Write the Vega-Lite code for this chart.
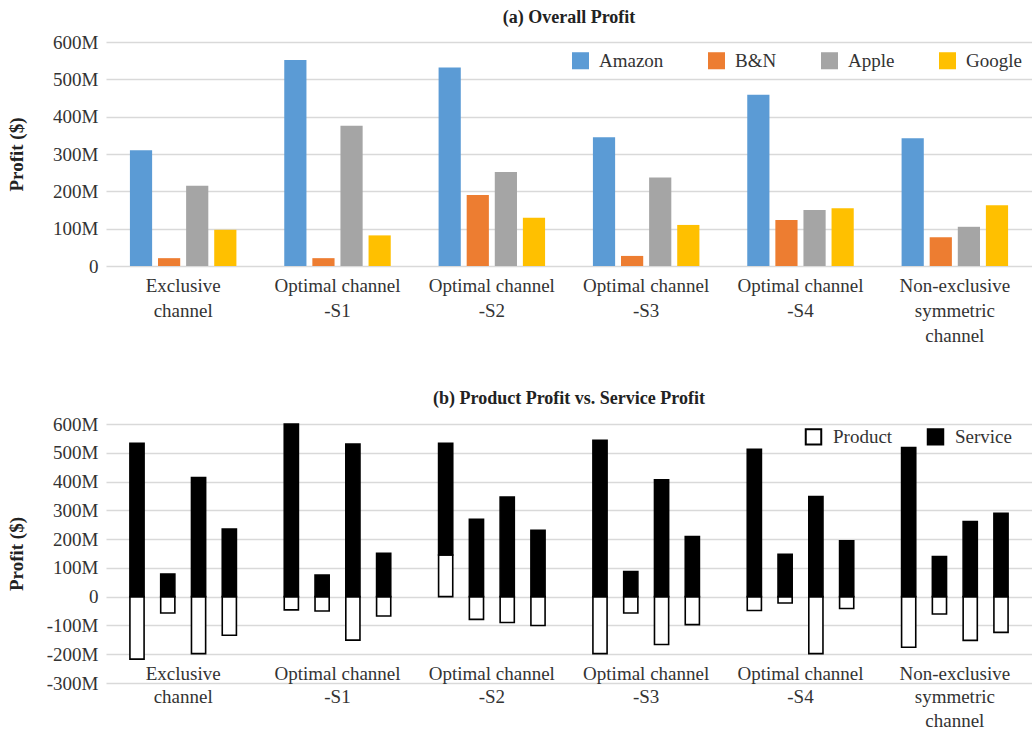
{
  "$schema": "https://vega.github.io/schema/vega-lite/v6.json",
  "padding": {"left": 7, "top": 9, "right": 0, "bottom": 0},
  "spacing": 45,
  "resolve": {"scale": {"color": "independent", "xOffset": "independent", "x": "independent", "y": "independent"}, "legend": {"color": "independent"}},
  "config": {
    "font": "Liberation Serif",
    "view": {"stroke": null},
    "axis": {"labelFont": "Liberation Serif", "labelFontSize": 19, "labelColor": "#333333", "titleFont": "Liberation Serif", "titleFontSize": 19, "titleFontWeight": "bold", "titleColor": "#222222", "domain": false, "ticks": false, "gridColor": "#D9D9D9", "gridWidth": 1.5},
    "legend": {"labelFont": "Liberation Serif", "labelFontSize": 19, "labelColor": "#333333"},
    "title": {"font": "Liberation Serif", "fontSize": 18, "fontWeight": "bold", "color": "#222222", "frame": "group", "anchor": "middle"}
  },
  "datasets": {
    "overall": [
      {"scenario": "Exclusive\nchannel", "company": "Amazon", "profit": 310},
      {"scenario": "Exclusive\nchannel", "company": "B&N", "profit": 21},
      {"scenario": "Exclusive\nchannel", "company": "Apple", "profit": 215},
      {"scenario": "Exclusive\nchannel", "company": "Google", "profit": 97},
      {"scenario": "Optimal channel\n-S1", "company": "Amazon", "profit": 552},
      {"scenario": "Optimal channel\n-S1", "company": "B&N", "profit": 21},
      {"scenario": "Optimal channel\n-S1", "company": "Apple", "profit": 376},
      {"scenario": "Optimal channel\n-S1", "company": "Google", "profit": 82},
      {"scenario": "Optimal channel\n-S2", "company": "Amazon", "profit": 532},
      {"scenario": "Optimal channel\n-S2", "company": "B&N", "profit": 190},
      {"scenario": "Optimal channel\n-S2", "company": "Apple", "profit": 252},
      {"scenario": "Optimal channel\n-S2", "company": "Google", "profit": 129},
      {"scenario": "Optimal channel\n-S3", "company": "Amazon", "profit": 345},
      {"scenario": "Optimal channel\n-S3", "company": "B&N", "profit": 27},
      {"scenario": "Optimal channel\n-S3", "company": "Apple", "profit": 237},
      {"scenario": "Optimal channel\n-S3", "company": "Google", "profit": 110},
      {"scenario": "Optimal channel\n-S4", "company": "Amazon", "profit": 459},
      {"scenario": "Optimal channel\n-S4", "company": "B&N", "profit": 123},
      {"scenario": "Optimal channel\n-S4", "company": "Apple", "profit": 150},
      {"scenario": "Optimal channel\n-S4", "company": "Google", "profit": 155},
      {"scenario": "Non-exclusive\nsymmetric\nchannel", "company": "Amazon", "profit": 342},
      {"scenario": "Non-exclusive\nsymmetric\nchannel", "company": "B&N", "profit": 77},
      {"scenario": "Non-exclusive\nsymmetric\nchannel", "company": "Apple", "profit": 105},
      {"scenario": "Non-exclusive\nsymmetric\nchannel", "company": "Google", "profit": 163}
    ],
    "split": [
      {"scenario": "Exclusive\nchannel", "company": "Amazon", "type": "Product", "profit": -217},
      {"scenario": "Exclusive\nchannel", "company": "Amazon", "type": "Service", "profit": 533},
      {"scenario": "Exclusive\nchannel", "company": "B&N", "type": "Product", "profit": -57},
      {"scenario": "Exclusive\nchannel", "company": "B&N", "type": "Service", "profit": 79},
      {"scenario": "Exclusive\nchannel", "company": "Apple", "type": "Product", "profit": -198},
      {"scenario": "Exclusive\nchannel", "company": "Apple", "type": "Service", "profit": 414},
      {"scenario": "Exclusive\nchannel", "company": "Google", "type": "Product", "profit": -134},
      {"scenario": "Exclusive\nchannel", "company": "Google", "type": "Service", "profit": 235},
      {"scenario": "Optimal channel\n-S1", "company": "Amazon", "type": "Product", "profit": -46},
      {"scenario": "Optimal channel\n-S1", "company": "Amazon", "type": "Service", "profit": 600},
      {"scenario": "Optimal channel\n-S1", "company": "B&N", "type": "Product", "profit": -50},
      {"scenario": "Optimal channel\n-S1", "company": "B&N", "type": "Service", "profit": 75},
      {"scenario": "Optimal channel\n-S1", "company": "Apple", "type": "Product", "profit": -151},
      {"scenario": "Optimal channel\n-S1", "company": "Apple", "type": "Service", "profit": 530},
      {"scenario": "Optimal channel\n-S1", "company": "Google", "type": "Product", "profit": -67},
      {"scenario": "Optimal channel\n-S1", "company": "Google", "type": "Service", "profit": 151},
      {"scenario": "Optimal channel\n-S2", "company": "Amazon", "type": "Product", "profit": 145},
      {"scenario": "Optimal channel\n-S2", "company": "Amazon", "type": "Service", "profit": 388},
      {"scenario": "Optimal channel\n-S2", "company": "B&N", "type": "Product", "profit": -79},
      {"scenario": "Optimal channel\n-S2", "company": "B&N", "type": "Service", "profit": 269},
      {"scenario": "Optimal channel\n-S2", "company": "Apple", "type": "Product", "profit": -90},
      {"scenario": "Optimal channel\n-S2", "company": "Apple", "type": "Service", "profit": 346},
      {"scenario": "Optimal channel\n-S2", "company": "Google", "type": "Product", "profit": -100},
      {"scenario": "Optimal channel\n-S2", "company": "Google", "type": "Service", "profit": 231},
      {"scenario": "Optimal channel\n-S3", "company": "Amazon", "type": "Product", "profit": -198},
      {"scenario": "Optimal channel\n-S3", "company": "Amazon", "type": "Service", "profit": 543},
      {"scenario": "Optimal channel\n-S3", "company": "B&N", "type": "Product", "profit": -57},
      {"scenario": "Optimal channel\n-S3", "company": "B&N", "type": "Service", "profit": 87},
      {"scenario": "Optimal channel\n-S3", "company": "Apple", "type": "Product", "profit": -166},
      {"scenario": "Optimal channel\n-S3", "company": "Apple", "type": "Service", "profit": 406},
      {"scenario": "Optimal channel\n-S3", "company": "Google", "type": "Product", "profit": -97},
      {"scenario": "Optimal channel\n-S3", "company": "Google", "type": "Service", "profit": 209},
      {"scenario": "Optimal channel\n-S4", "company": "Amazon", "type": "Product", "profit": -48},
      {"scenario": "Optimal channel\n-S4", "company": "Amazon", "type": "Service", "profit": 512},
      {"scenario": "Optimal channel\n-S4", "company": "B&N", "type": "Product", "profit": -22},
      {"scenario": "Optimal channel\n-S4", "company": "B&N", "type": "Service", "profit": 147},
      {"scenario": "Optimal channel\n-S4", "company": "Apple", "type": "Product", "profit": -198},
      {"scenario": "Optimal channel\n-S4", "company": "Apple", "type": "Service", "profit": 348},
      {"scenario": "Optimal channel\n-S4", "company": "Google", "type": "Product", "profit": -41},
      {"scenario": "Optimal channel\n-S4", "company": "Google", "type": "Service", "profit": 194},
      {"scenario": "Non-exclusive\nsymmetric\nchannel", "company": "Amazon", "type": "Product", "profit": -176},
      {"scenario": "Non-exclusive\nsymmetric\nchannel", "company": "Amazon", "type": "Service", "profit": 518},
      {"scenario": "Non-exclusive\nsymmetric\nchannel", "company": "B&N", "type": "Product", "profit": -60},
      {"scenario": "Non-exclusive\nsymmetric\nchannel", "company": "B&N", "type": "Service", "profit": 139},
      {"scenario": "Non-exclusive\nsymmetric\nchannel", "company": "Apple", "type": "Product", "profit": -152},
      {"scenario": "Non-exclusive\nsymmetric\nchannel", "company": "Apple", "type": "Service", "profit": 261},
      {"scenario": "Non-exclusive\nsymmetric\nchannel", "company": "Google", "type": "Product", "profit": -124},
      {"scenario": "Non-exclusive\nsymmetric\nchannel", "company": "Google", "type": "Service", "profit": 290}
    ]
  },
  "vconcat": [
    {
      "width": 926,
      "height": 224,
      "title": {"text": "(a) Overall Profit", "offset": 6},
      "data": {"name": "overall"},
      "mark": {"type": "bar"},
      "encoding": {
        "x": {"field": "scenario", "type": "nominal", "sort": ["Exclusive\nchannel", "Optimal channel\n-S1", "Optimal channel\n-S2", "Optimal channel\n-S3", "Optimal channel\n-S4", "Non-exclusive\nsymmetric\nchannel"], "scale": {"paddingInner": 0.31, "paddingOuter": 0.155}, "axis": {"title": null, "labelAngle": 0, "labelPadding": 10, "labelLineHeight": 25, "labelExpr": "split(datum.label, '\\n')", "grid": false}},
        "xOffset": {"field": "company", "type": "nominal", "sort": ["Amazon", "B&N", "Apple", "Google"], "scale": {"paddingInner": 0.21}},
        "y": {"field": "profit", "type": "quantitative", "scale": {"domain": [0, 600]}, "axis": {"title": "Profit ($)", "values": [0, 100, 200, 300, 400, 500, 600], "labelExpr": "datum.value == 0 ? '0' : datum.value + 'M'", "labelPadding": 8, "titlePadding": 26}},
        "color": {"field": "company", "type": "nominal", "scale": {"domain": ["Amazon", "B&N", "Apple", "Google"], "range": ["#5B9BD5", "#ED7D31", "#A5A5A5", "#FFC000"]}, "legend": {"title": null, "orient": "none", "legendX": 465, "legendY": 9, "direction": "horizontal", "symbolType": "square", "symbolSize": 290, "symbolStrokeWidth": 0, "labelOffset": 9, "columnPadding": 43}}
      }
    },
    {
      "width": 926,
      "height": 259,
      "title": {"text": "(b) Product Profit vs. Service Profit", "offset": 7},
      "data": {"name": "split"},
      "mark": {"type": "bar", "stroke": "#000000", "strokeWidth": 1.6},
      "encoding": {
        "x": {"field": "scenario", "type": "nominal", "sort": ["Exclusive\nchannel", "Optimal channel\n-S1", "Optimal channel\n-S2", "Optimal channel\n-S3", "Optimal channel\n-S4", "Non-exclusive\nsymmetric\nchannel"], "scale": {"paddingInner": 0.31, "paddingOuter": 0.155}, "axis": {"title": null, "labelAngle": 0, "labelPadding": -19, "labelLineHeight": 23.5, "labelExpr": "split(datum.label, '\\n')", "grid": false}},
        "xOffset": {"field": "company", "type": "nominal", "sort": ["Amazon", "B&N", "Apple", "Google"], "scale": {"paddingInner": 0.54}},
        "y": {"field": "profit", "type": "quantitative", "stack": "zero", "scale": {"domain": [-300, 600]}, "axis": {"title": "Profit ($)", "values": [-300, -200, -100, 0, 100, 200, 300, 400, 500, 600], "labelExpr": "datum.value == 0 ? '0' : datum.value + 'M'", "labelPadding": 8, "titlePadding": 20}},
        "order": {"field": "type", "sort": "ascending"},
        "color": {"field": "type", "type": "nominal", "scale": {"domain": ["Product", "Service"], "range": ["#FFFFFF", "#000000"]}, "legend": {"title": null, "orient": "none", "legendX": 698, "legendY": 3, "direction": "horizontal", "symbolType": "square", "symbolSize": 240, "symbolStrokeColor": "#000000", "symbolStrokeWidth": 2, "labelOffset": 10, "columnPadding": 30}}
      }
    }
  ]
}
